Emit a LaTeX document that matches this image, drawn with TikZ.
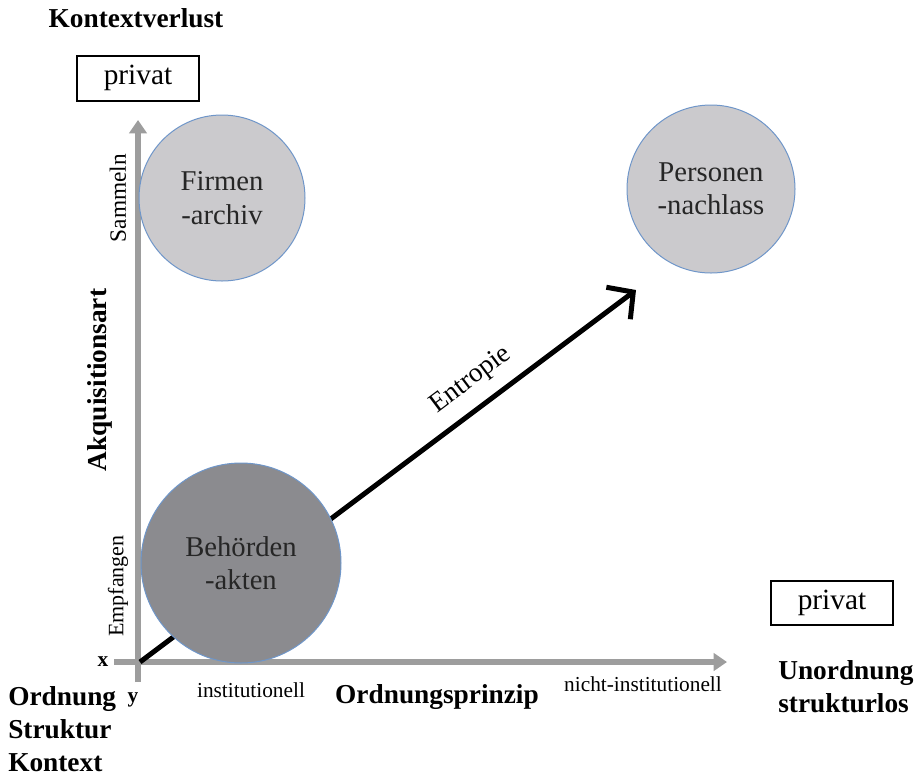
\documentclass[tikz,border=0pt]{standalone}
\usepackage{fontspec}
\setmainfont{Liberation Serif}
\usetikzlibrary{arrows.meta,positioning}
\definecolor{axisgray}{HTML}{9D9D9D}
\definecolor{lightblob}{HTML}{CBCACD}
\definecolor{darkblob}{HTML}{8B8B8F}
\definecolor{rimblue}{HTML}{6F96C9}

\begin{document}
\begin{tikzpicture}[
  x=0.75pt,y=-0.75pt,
  blob/.style={circle,draw=rimblue,line width=0.75pt,fill=lightblob,align=center,
    text=black!85,font=\fontsize{21.5}{25}\selectfont},
  axis/.style={draw=axisgray,line width=4.5pt,-{Triangle[length=10pt,width=13pt]}},
  tagbox/.style={draw,line width=1.5pt,minimum width=91.5pt,minimum height=33pt,
    inner sep=0pt,font=\fontsize{22}{24}\selectfont},
  biglabel/.style={font=\bfseries\fontsize{20.5}{24.75}\selectfont,align=left,inner sep=0pt},
  smalllabel/.style={font=\fontsize{16}{19}\selectfont,inner sep=0pt}
]
\useasboundingbox (0,0) rectangle (918,776);

% axes
\coordinate (ybot) at (138,682);
\coordinate (ytop) at (138,120);
\coordinate (xleft) at (114,662);
\coordinate (xright) at (727,662);
\draw[axis] (ybot) -- (ytop);
\draw[axis] (xleft) -- (xright);

% entropy arrow
\coordinate (origin) at (140,662);
\coordinate (tip) at (636,290);
\draw[line width=3.75pt,-{Straight Barb[length=14pt,width=30pt]}] (origin) -- (tip)
  node[pos=0.7,above,sloped,font=\fontsize{20.5}{24}\selectfont,yshift=6pt] (entropie) {Entropie};

% circles
\node[blob,minimum size=124.5pt] (firmen) at (222,198) {Firmen\\-archiv};
\node[blob,minimum size=126pt] (personen) at (711,189) {Personen\\-nachlass};
\node[blob,minimum size=150pt,fill=darkblob] (behoerden) at (241,563) {Behörden\\-akten};

% boxes
\node[tagbox,minimum height=33.75pt] (privtop) at (138,78) {privat};
\node[tagbox] (privright) at (832,603) {privat};

% labels
\node[biglabel] (kontextverlust) at (136,18) {Kontextverlust};
\node[biglabel,rotate=90] (akquisition) at (100,380) {Akquisitionsart};
\node[biglabel] (ordnungsprinzip) at (437,697) {Ordnungsprinzip};
\node[biglabel,anchor=north west] (ordnung) at (8,686) {Ordnung\\Struktur\\Kontext};
\node[biglabel,anchor=north west] (unordnung) at (778,660) {Unordnung\\strukturlos};
\node[smalllabel,rotate=90,font=\fontsize{17.5}{19}\selectfont] (sammeln) at (118,198) {Sammeln};
\node[smalllabel,rotate=90,font=\fontsize{16.5}{19}\selectfont] (empfangen) at (118,586) {Empfangen};
\node[smalllabel] (institutionell) at (251,690) {institutionell};
\node[smalllabel] (nichtinst) at (643,684) {nicht-institutionell};
\node[smalllabel,font=\bfseries\fontsize{16}{19}\selectfont] (xlab) at (103,662) {x};
\node[smalllabel,font=\bfseries\fontsize{16}{19}\selectfont] (ylab) at (133,700) {y};

\end{tikzpicture}
\end{document}
